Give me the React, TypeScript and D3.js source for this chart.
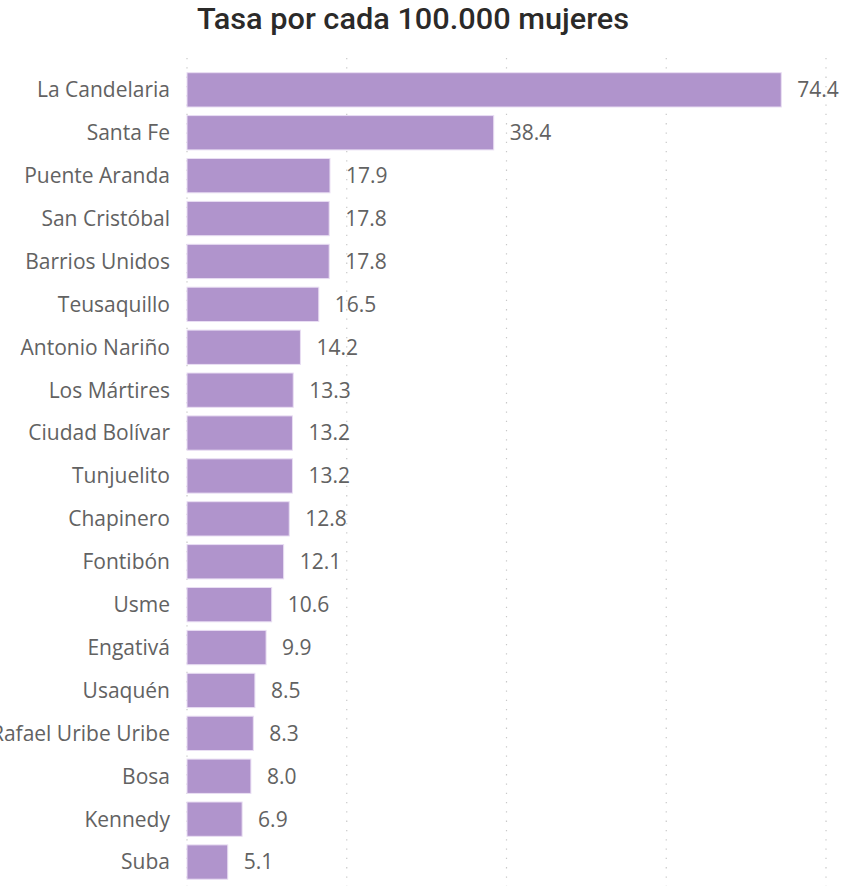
import { useEffect, useRef } from "react";
import * as d3 from "d3";

const localidades = [
  "La Candelaria",
  "Santa Fe",
  "Puente Aranda",
  "San Cristóbal",
  "Barrios Unidos",
  "Teusaquillo",
  "Antonio Nariño",
  "Los Mártires",
  "Ciudad Bolívar",
  "Tunjuelito",
  "Chapinero",
  "Fontibón",
  "Usme",
  "Engativá",
  "Usaquén",
  "Rafael Uribe Uribe",
  "Bosa",
  "Kennedy",
  "Suba",
];

const tasas = [74.4, 38.4, 17.9, 17.8, 17.8, 16.5, 14.2, 13.3, 13.2, 13.2, 12.8, 12.1, 10.6, 9.9, 8.5, 8.3, 8.0, 6.9, 5.1];

const gridTicks = [0, 20, 40, 60, 80];

const titulo = "Tasa por cada 100.000 mujeres";

const WIDTH = 850;
const HEIGHT = 886;

const BarChart = () => {
  const ref = useRef<SVGSVGElement>(null);

  useEffect(() => {
    if (!ref.current) return;
    const svg = d3.select(ref.current);
    svg.selectAll("*").remove();

    const data = localidades.map((name, i) => ({ name, value: tasas[i] }));

    const x = d3.scaleLinear().domain([0, 80]).range([187, 826]);
    const step = 42.9;
    const y = d3
      .scaleBand<string>()
      .domain(localidades)
      .range([68.4, 68.4 + step * localidades.length])
      .paddingInner(0.2)
      .paddingOuter(0.1);

    const font = "'Segoe UI', 'Open Sans', sans-serif";

    // title
    svg.append("text")
      .attr("x", 413)
      .attr("y", 29)
      .attr("text-anchor", "middle")
      .attr("font-family", "Roboto, 'DejaVu Sans Condensed', sans-serif")
      .attr("font-weight", 500)
      .attr("font-size", 30)
      .attr("textLength", 432)
      .attr("lengthAdjust", "spacingAndGlyphs")
      .attr("fill", "#2b2a29")
      .text(titulo);

    // dotted gridlines
    svg.append("g")
      .selectAll("line")
      .data(gridTicks)
      .enter()
      .append("line")
      .attr("x1", d => x(d))
      .attr("x2", d => x(d))
      .attr("y1", 58)
      .attr("y2", HEIGHT)
      .attr("stroke", "#c8c8c8")
      .attr("stroke-width", 1.2)
      .attr("stroke-dasharray", "1.3 8");

    // bars
    svg.append("g")
      .selectAll("rect")
      .data(data)
      .enter()
      .append("rect")
      .attr("x", x(0))
      .attr("y", d => y(d.name)!)
      .attr("width", d => x(d.value) - x(0))
      .attr("height", y.bandwidth())
      .attr("fill", "#b094cc")
      .attr("stroke", "#e9def3")
      .attr("stroke-width", 1);

    // category labels
    svg.append("g")
      .selectAll("text")
      .data(data)
      .enter()
      .append("text")
      .attr("x", 170)
      .attr("y", d => y(d.name)! + y.bandwidth() / 2)
      .attr("dy", "0.35em")
      .attr("text-anchor", "end")
      .attr("font-family", font)
      .attr("font-size", 21)
      .attr("fill", "#626262")
      .text(d => d.name);

    // value labels
    svg.append("g")
      .selectAll("text")
      .data(data)
      .enter()
      .append("text")
      .attr("x", d => x(d.value) + 16)
      .attr("y", d => y(d.name)! + y.bandwidth() / 2)
      .attr("dy", "0.35em")
      .attr("font-family", font)
      .attr("font-size", 21)
      .attr("fill", "#626262")
      .text(d => d3.format(".1f")(d.value));
  }, []);

  return (
    <svg
      ref={ref}
      width={WIDTH}
      height={HEIGHT}
      style={{ position: "absolute", left: 0, top: 0, background: "#fff" }}
    ></svg>
  );
};

export default function App() {
  return <BarChart />;
}
